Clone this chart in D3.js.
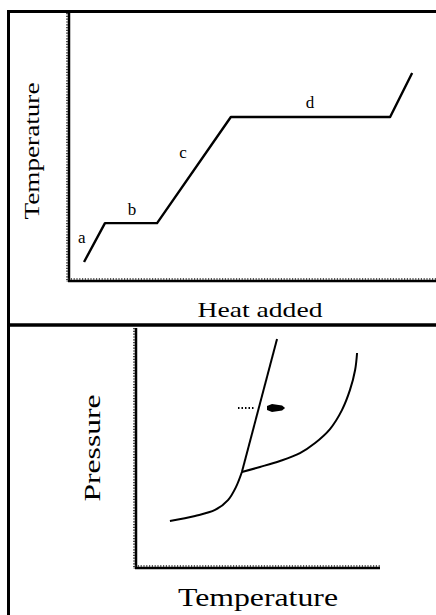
<!DOCTYPE html>
<html>
<head>
<meta charset="utf-8">
<script src="https://cdn.jsdelivr.net/npm/d3@7"></script>
<style>
  html, body { margin: 0; padding: 0; background: #fff; }
  svg { display: block; }
  text { font-family: "Liberation Serif", "DejaVu Serif", serif; fill: #000; }
</style>
</head>
<body>
<svg id="chart" width="436" height="615"></svg>
<script>
// ---- Top chart: heating curve (heat added vs temperature), 0-100 units
const heatAdded   = [4.1, 9.8, 24.0, 44.1, 87.5, 93.5];
const temperature = [7.1, 21.6, 21.6, 61.2, 61.2, 77.6];
const segLabels   = ["a", "b", "c", "d"];
const segLabelX   = [3.5, 17.2, 31.1, 65.7];
const segLabelY   = [14.2, 24.6, 45.9, 64.6];

// ---- Bottom chart: phase diagram (temperature vs pressure), 0-100 units
const sublimT = [13.9, 24.2, 32.4, 37.7, 41.0, 43.4];
const sublimP = [19.6, 21.7, 24.2, 28.3, 33.8, 40.0];
const vaporT  = [43.4, 50.8, 59.0, 67.2, 73.4, 79.5, 84.4, 87.7, 89.8, 90.6];
const vaporP  = [40.0, 42.1, 44.6, 47.9, 52.1, 57.9, 65.8, 74.2, 82.5, 89.6];
const meltT   = [43.4, 57.8];
const meltP   = [40.0, 95.4];
const arrowT  = [41.8, 48.8, 53.7, 61.1]; // dotted start, dotted end, head start, head end
const arrowP  = 66.7;

const svg = d3.select("#chart");

// ---- frame
svg.append("line").attr("x1", 8.5).attr("x2", 8.5).attr("y1", 10).attr("y2", 615)
  .attr("stroke", "#000").attr("stroke-width", 3);
svg.append("line").attr("x1", 7).attr("x2", 436).attr("y1", 11.5).attr("y2", 11.5)
  .attr("stroke", "#000").attr("stroke-width", 3);
svg.append("line").attr("x1", 7).attr("x2", 436).attr("y1", 325).attr("y2", 325)
  .attr("stroke", "#000").attr("stroke-width", 3.5);

function rulerAxis(g, x1, y1, x2, y2, vertical) {
  g.append("line").attr("x1", x1).attr("x2", x2).attr("y1", y1).attr("y2", y2)
    .attr("stroke", "#000").attr("stroke-width", 2.5);
  const off = 2;
  g.append("line")
    .attr("x1", vertical ? x1 - off : x1).attr("x2", vertical ? x2 - off : x2)
    .attr("y1", vertical ? y1 : y1 - off).attr("y2", vertical ? y2 : y2 - off)
    .attr("stroke", "#222").attr("stroke-width", 1.6).attr("stroke-dasharray", "1.2,1.6");
}

// ---- Top chart
const xTop = d3.scaleLinear().domain([0, 100]).range([69, 436]);
const yTop = d3.scaleLinear().domain([0, 100]).range([281, 13]);
const gTop = svg.append("g");
rulerAxis(gTop, xTop(0), yTop(100), xTop(0), yTop(0) + 1, true);
rulerAxis(gTop, xTop(0) - 1, yTop(0), xTop(100), yTop(0), false);

const topData = heatAdded.map((h, i) => ({ x: h, y: temperature[i] }));
gTop.append("path").datum(topData)
  .attr("d", d3.line().x(d => xTop(d.x)).y(d => yTop(d.y)))
  .attr("fill", "none").attr("stroke", "#000").attr("stroke-width", 2.4)
  .attr("stroke-linejoin", "round");

gTop.selectAll("text.seg").data(segLabels).join("text")
  .attr("class", "seg")
  .attr("x", (d, i) => xTop(segLabelX[i]))
  .attr("y", (d, i) => yTop(segLabelY[i]))
  .attr("text-anchor", "middle")
  .attr("font-size", 17)
  .text(d => d);

gTop.append("text")
  .attr("transform", "translate(39,151) rotate(-90)")
  .attr("text-anchor", "middle").attr("font-size", 20)
  .attr("textLength", 137).attr("lengthAdjust", "spacingAndGlyphs")
  .text("Temperature");
gTop.append("text")
  .attr("x", 260).attr("y", 317)
  .attr("text-anchor", "middle").attr("font-size", 21)
  .attr("textLength", 125).attr("lengthAdjust", "spacingAndGlyphs")
  .text("Heat added");

// ---- Bottom chart
const xBot = d3.scaleLinear().domain([0, 100]).range([136, 380]);
const yBot = d3.scaleLinear().domain([0, 100]).range([568, 328]);
const gBot = svg.append("g");
rulerAxis(gBot, xBot(0), yBot(100), xBot(0), yBot(0) + 1, true);
rulerAxis(gBot, xBot(0) - 1, yBot(0), xBot(100), yBot(0), false);

const lineBot = d3.line().x(d => xBot(d.x)).y(d => yBot(d.y));
const curveBot = d3.line().x(d => xBot(d.x)).y(d => yBot(d.y)).curve(d3.curveCatmullRom.alpha(0.5));
gBot.append("path").datum(sublimT.map((t, i) => ({ x: t, y: sublimP[i] })))
  .attr("d", curveBot).attr("fill", "none").attr("stroke", "#000").attr("stroke-width", 2);
gBot.append("path").datum(vaporT.map((t, i) => ({ x: t, y: vaporP[i] })))
  .attr("d", curveBot).attr("fill", "none").attr("stroke", "#000").attr("stroke-width", 2);
gBot.append("path").datum(meltT.map((t, i) => ({ x: t, y: meltP[i] })))
  .attr("d", lineBot).attr("fill", "none").attr("stroke", "#000").attr("stroke-width", 2);

// arrow: dotted shaft then filled head
gBot.append("line")
  .attr("x1", xBot(arrowT[0])).attr("x2", xBot(arrowT[1]))
  .attr("y1", yBot(arrowP)).attr("y2", yBot(arrowP))
  .attr("stroke", "#000").attr("stroke-width", 2).attr("stroke-dasharray", "1.5,2");
const hx0 = xBot(arrowT[2]), hx1 = xBot(arrowT[3]), hy = yBot(arrowP);
gBot.append("path")
  .attr("d", `M${hx0},${hy - 2} L${hx0 + 5},${hy - 4} L${hx1 - 3},${hy - 2.5} L${hx1},${hy} L${hx1 - 3},${hy + 2.5} L${hx0 + 5},${hy + 4} L${hx0},${hy + 2} Z`)
  .attr("fill", "#000");

gBot.append("text")
  .attr("transform", "translate(100,448) rotate(-90)")
  .attr("text-anchor", "middle").attr("font-size", 24)
  .attr("textLength", 107).attr("lengthAdjust", "spacingAndGlyphs")
  .text("Pressure");
gBot.append("text")
  .attr("x", 258).attr("y", 606)
  .attr("text-anchor", "middle").attr("font-size", 26)
  .attr("textLength", 160).attr("lengthAdjust", "spacingAndGlyphs")
  .text("Temperature");
</script>
</body>
</html>
